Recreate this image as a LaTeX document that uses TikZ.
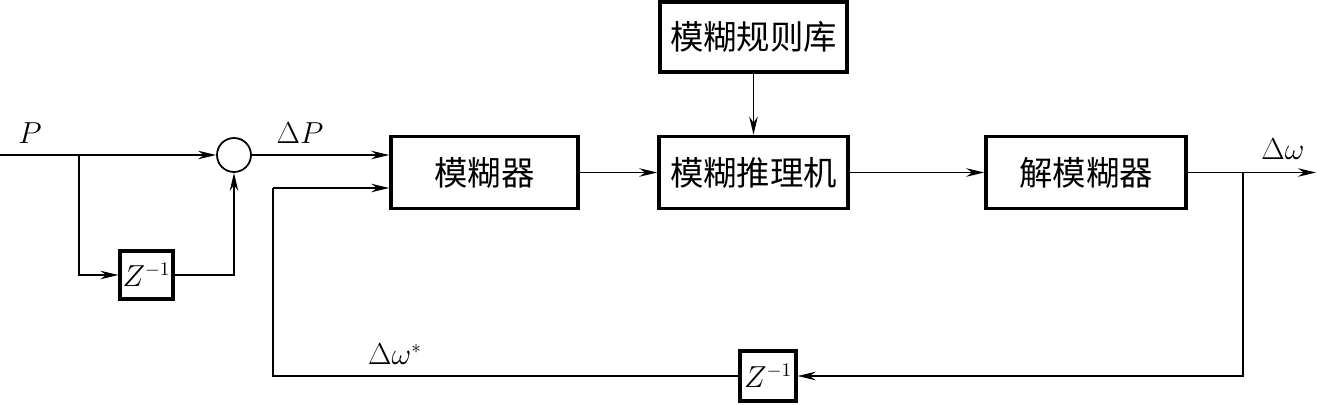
\documentclass[tikz,border=0pt]{standalone}
\usepackage{fontspec}
\newfontfamily\cjk{Noto Sans CJK SC}
\usetikzlibrary{arrows.meta,positioning,calc}

\begin{document}
\begin{tikzpicture}[
  block/.style={draw, line width=2pt, minimum height=1.44cm, inner sep=0pt, font=\cjk\fontsize{19}{21}\selectfont},
  delay/.style={draw, line width=1.8pt, minimum width=1.06cm, minimum height=0.96cm, inner sep=0pt, font=\fontsize{16}{18}\selectfont},
  sig/.style={line width=1pt, -{Stealth[length=0.36cm, width=0.17cm]}},
  wire/.style={line width=1pt},
  lbl/.style={font=\fontsize{16}{18}\selectfont}
]
  \useasboundingbox (0,0) rectangle (26.34,8.1);
  % Main blocks
  \node[block, minimum width=3.74cm] (fuz)   at (9.69,4.65)  {模糊器};
  \node[block, minimum width=3.78cm] (inf)   at (15.07,4.65) {模糊推理机};
  \node[block, minimum width=3.74cm, minimum height=1.40cm] (rule) at (15.07,7.36) {模糊规则库};
  \node[block, minimum width=4.00cm] (defuz) at (21.72,4.65) {解模糊器};
  % Difference part
  \node[circle, draw, line width=1pt, minimum size=0.68cm, inner sep=0pt] (sum) at (4.68,5.0) {};
  \node[delay] (z1) at (2.93,2.6) {$Z^{-1}$};
  \node[delay, minimum width=1.12cm, minimum height=1.0cm] (z2) at (15.36,0.58) {$Z^{-1}$};
  % Free ends and branch points
  \coordinate (in)  at (0,5.0);
  \coordinate (br1) at (1.58,5.0);
  \coordinate (fb)  at (5.46,4.34);
  \coordinate (br2) at (24.86,4.65);
  \coordinate (out) at (26.32,4.65);
  % Connectors
  \draw[sig] (in) -- (sum);
  \draw[sig] (br1) |- (z1);
  \draw[sig] (z1) -| (sum);
  \draw[sig] (sum) -- (sum -| fuz.west);
  \draw[sig] (fb) -- (fb -| fuz.west);
  \draw[sig, line width=0.6pt] (fuz) -- (inf);
  \draw[sig] (rule) -- (inf);
  \draw[sig] (inf) -- (defuz);
  \draw[sig] (defuz) -- (out);
  \draw[sig] (br2) |- (z2);
  \draw[wire] (z2) -| (fb);
  % Signal labels
  \node[lbl] (lP)   at (0.6,5.44)   {$P$};
  \node[lbl] (ldP)  at (6.0,5.44)   {$\Delta P$};
  \node[lbl] (ldw)  at (25.66,5.12) {$\Delta\omega$};
  \node[lbl] (ldws) at (7.9,1.02)   {$\Delta\omega^{*}$};
\end{tikzpicture}
\end{document}
